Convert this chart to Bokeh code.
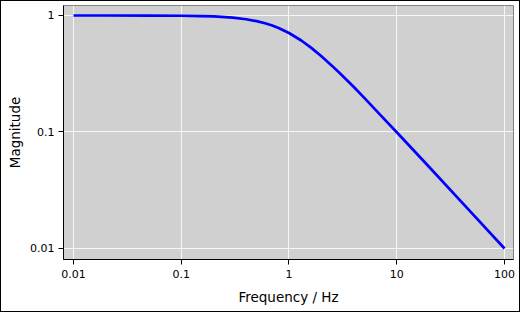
from bokeh.plotting import figure
from bokeh.models import FixedTicker, CustomJSTickFormatter, Range1d
from bokeh.embed import file_html
from bokeh.resources import INLINE

# Values
freq = [0.01, 0.02, 0.05, 0.1, 0.15, 0.2, 0.3, 0.4, 0.5, 0.6, 0.7, 0.8, 1.0,
        1.3, 1.6, 2.0, 2.5, 3.0, 4.0, 5.0, 7.0, 10.0, 20.0, 50.0, 100.0]
magnitude = [1.0, 0.9998, 0.9988, 0.995, 0.989, 0.981, 0.958, 0.928, 0.894,
             0.857, 0.819, 0.781, 0.707, 0.610, 0.530, 0.447, 0.371, 0.316,
             0.243, 0.196, 0.141, 0.0995, 0.05, 0.02, 0.01]
x_ticks = [0.01, 0.1, 1, 10, 100]
y_ticks = [0.01, 0.1, 1]

p = figure(width=520, height=312, x_axis_type="log", y_axis_type="log",
           x_range=Range1d(0.00808, 121.2), y_range=Range1d(0.00804, 1.218),
           output_backend="svg", toolbar_location=None,
           min_border_left=62, min_border_top=4, min_border_right=8, min_border_bottom=54,
           background_fill_color="#d0d0d0", border_fill_color="white",
           outline_line_color="#808080", outline_line_width=1)
p.styles = {"border": "1px solid black", "box-sizing": "border-box"}

p.line(freq, magnitude, line_color="#0000ff", line_width=2.7)

for ax, ticks in ((p.xaxis[0], x_ticks), (p.yaxis[0], y_ticks)):
    ax.ticker = FixedTicker(ticks=ticks, minor_ticks=[])
    ax.formatter = CustomJSTickFormatter(code="return tick.toString();")
    ax.major_label_text_font = "DejaVu Sans"
    ax.major_label_text_font_size = "11px"
    ax.major_label_text_color = "black"
    ax.axis_label_text_font = "DejaVu Sans"
    ax.axis_label_text_font_size = "13.5px"
    ax.axis_label_text_font_style = "normal"
    ax.axis_label_text_color = "black"
    ax.axis_line_color = "black"
    ax.major_tick_line_color = "black"
    ax.major_tick_out = 5
    ax.major_tick_in = 0
    ax.minor_tick_line_color = None

p.xaxis.axis_label = "Frequency / Hz"
p.yaxis.axis_label = "Magnitude"
p.xaxis.major_label_standoff = 5
p.yaxis.major_label_standoff = 4
p.xaxis.axis_label_standoff = 8
p.yaxis.axis_label_standoff = 4

p.xgrid.grid_line_color = "white"
p.ygrid.grid_line_color = "white"
p.xgrid.grid_line_alpha = 0.8
p.ygrid.grid_line_alpha = 0.8

open("out.html", "w").write(file_html(p, INLINE))
